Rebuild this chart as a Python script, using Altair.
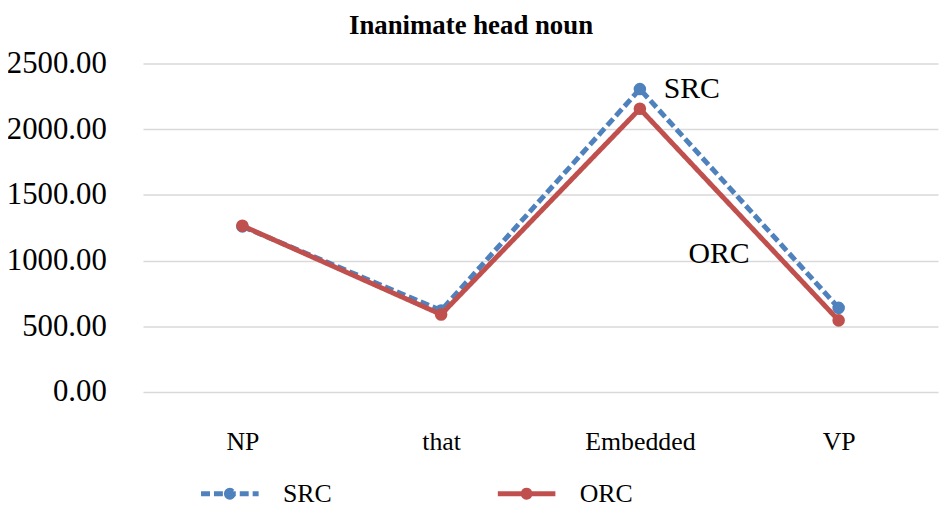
import altair as alt
import pandas as pd

categories = ["NP", "that", "Embedded", "VP"]
src_values = [1260, 620, 2305, 640]
orc_values = [1265, 590, 2155, 545]
series_names = ["SRC", "ORC"]
series_colors = ["#4f81bd", "#c0504d"]
y_ticks = [0, 500, 1000, 1500, 2000, 2500]
annot_labels = ["SRC", "ORC"]
annot_segments = ["Embedded", "Embedded"]
annot_values = [2305, 1050]

rows = []
for c, s, o in zip(categories, src_values, orc_values):
    rows.append({"segment": c, "series": "SRC", "value": s})
    rows.append({"segment": c, "series": "ORC", "value": o})
df = pd.DataFrame(rows)
annot = pd.DataFrame({"label": annot_labels, "segment": annot_segments, "value": annot_values})

FONT = "Liberation Serif"

legend = alt.Legend(
    title=None, orient="none", legendX=56, legendY=402, direction="horizontal",
    symbolType="M-1,0H1M-0.12,0A0.12,0.12 0 1,0 0.12,0A0.12,0.12 0 1,0 -0.12,0",
    symbolSize=3364, symbolStrokeWidth=5, labelFont=FONT, labelFontSize=26,
    labelColor="black", columnPadding=156, labelOffset=22,
)

x = alt.X("segment:N", sort=categories, scale=alt.Scale(domain=categories),
          axis=alt.Axis(title=None, labelAngle=0, labelFont=FONT, labelFontSize=26,
                        labelColor="black", labelPadding=37, ticks=False, domain=False,
                        grid=False, labelBaseline="top"))
y = alt.Y("value:Q", scale=alt.Scale(domain=[0, 2500], nice=False),
          axis=alt.Axis(title=None, values=y_ticks, format=".2f", labelFont=FONT,
                        labelFontSize=31, labelColor="black", labelPadding=37,
                        ticks=False, domain=False, gridColor="#d9d9d9", gridWidth=1.5))
color = alt.Color("series:N", scale=alt.Scale(domain=series_names, range=series_colors), legend=legend)
dash = alt.StrokeDash("series:N", scale=alt.Scale(domain=series_names, range=[[9, 4], [1, 0]]), legend=legend)

base = alt.Chart(df).encode(x=x, y=y, color=color)

layers = []
for name in series_names:
    sub = base.transform_filter(alt.datum.series == name)
    layers.append(sub.mark_line(strokeWidth=5).encode(strokeDash=dash))
    layers.append(sub.mark_point(filled=True, size=160, opacity=1))

annot_base = alt.Chart(annot).encode(
    x=alt.X("segment:N", sort=categories), y="value:Q", text="label:N")
src_txt = annot_base.transform_filter(alt.datum.label == "SRC").mark_text(
    align="left", baseline="middle", dx=24, font=FONT, fontSize=30, color="black")
orc_txt = annot_base.transform_filter(alt.datum.label == "ORC").mark_text(
    align="left", baseline="middle", dx=49, font=FONT, fontSize=30, color="black")

chart = alt.layer(*layers, src_txt, orc_txt).properties(
    width=801, height=331,
    title=alt.Title("Inanimate head noun", font=FONT, fontSize=27, fontWeight="bold",
                    color="black", anchor="middle", dx=-70, offset=8),
    autosize=alt.AutoSizeParams(type="none"),
    padding={"left": 136, "top": 54, "right": 2, "bottom": 114},
).configure(background="white").configure_view(stroke=None)

chart.save("out.html", embed_options={"renderer": "svg", "actions": False})
